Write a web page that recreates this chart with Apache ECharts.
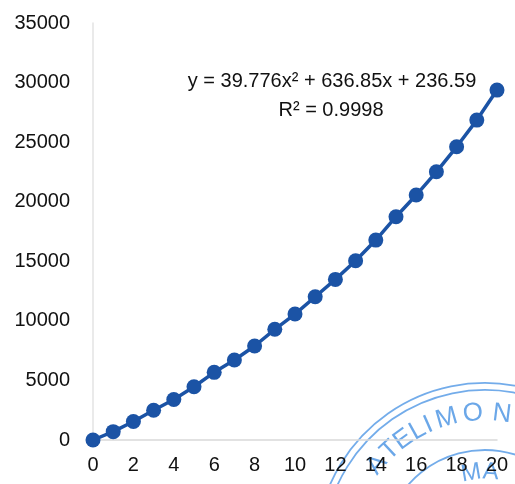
<!DOCTYPE html>
<html>
<head>
<meta charset="utf-8">
<script src="https://cdn.jsdelivr.net/npm/echarts@6/dist/echarts.min.js"></script>
<style>
  html, body { margin: 0; padding: 0; background: #ffffff; }
  #chart { width: 515px; height: 484px; }
</style>
</head>
<body>
<div id="chart"></div>
<script>
// Measured series: x from 0 to 20, y values
const xValues = [0, 1, 2, 3, 4, 5, 6, 7, 8, 9, 10, 11, 12, 13, 14, 15, 16, 17, 18, 19, 20];
const yValues = [0, 700, 1550, 2500, 3400, 4470, 5680, 6710, 7890, 9290, 10570,
                 12020, 13480, 15040, 16780, 18740, 20560, 22510, 24610, 26850, 29370];

// Trendline annotation
const equationText = 'y = 39.776x² + 636.85x + 236.59';
const r2Text = 'R² = 0.9998';

// Letters of the rubber stamp in the corner
const stampTopLetters = ['A', 'T', 'E', 'L', 'I', 'M', 'O', 'N'];
const stampTopAngles = [141, 133, 126, 119, 114, 106, 95, 83];
const stampInnerLetters = ['M', 'A'];
const stampInnerAngles = [100, 86];

const FONT = "'Liberation Sans', Arial, sans-serif";
const BLUE = '#1b53a5';
const STAMP = '#5b9de6';

const points = xValues.map((x, i) => [x, yValues[i]]);

// Stamp geometry
const stampCx = 485, stampCy = 552;
const stampEls = [];
[169, 162].forEach(r => {
  stampEls.push({
    type: 'arc',
    shape: { cx: stampCx, cy: stampCy, r: r, startAngle: -170 * Math.PI / 180, endAngle: -50 * Math.PI / 180, clockwise: true },
    style: { stroke: STAMP, lineWidth: 1.8, fill: null, opacity: 0.85 },
    silent: true
  });
});
stampEls.push({
  type: 'arc',
  shape: { cx: stampCx, cy: stampCy, r: 102, startAngle: -150 * Math.PI / 180, endAngle: -40 * Math.PI / 180, clockwise: true },
  style: { stroke: STAMP, lineWidth: 1.8, fill: null, opacity: 0.85 },
  silent: true
});
function stampLetter(ch, angleDeg, r, size) {
  const a = angleDeg * Math.PI / 180;
  return {
    type: 'text',
    x: stampCx + r * Math.cos(a),
    y: stampCy - r * Math.sin(a),
    rotation: (angleDeg - 90) * Math.PI / 180,
    style: {
      text: ch, fill: STAMP, opacity: 0.9,
      font: 'normal ' + size + 'px ' + FONT,
      align: 'center', verticalAlign: 'middle'
    },
    silent: true
  };
}
stampTopLetters.forEach((ch, i) => stampEls.push(stampLetter(ch, stampTopAngles[i], 139, 26)));
stampInnerLetters.forEach((ch, i) => stampEls.push(stampLetter(ch, stampInnerAngles[i], 80, 24)));

const chart = echarts.init(document.getElementById('chart'), null, { renderer: 'canvas' });

chart.setOption({
  animation: false,
  backgroundColor: '#ffffff',
  grid: { left: 93, right: 18, top: 23, bottom: 44, containLabel: false, outerBoundsMode: 'none' },
  xAxis: {
    type: 'value',
    min: 0, max: 20, interval: 2,
    axisLine: { show: true, lineStyle: { color: '#d9d9d9', width: 1.5 } },
    axisTick: { show: false },
    splitLine: { show: false },
    axisLabel: { color: '#111111', fontFamily: FONT, fontSize: 20, margin: 15, formatter: v => String(v) }
  },
  yAxis: {
    type: 'value',
    min: 0, max: 35000, interval: 5000,
    axisLine: { show: true, lineStyle: { color: '#e3e3e3', width: 1.5 } },
    axisTick: { show: false },
    splitLine: { show: false },
    axisLabel: { color: '#111111', fontFamily: FONT, fontSize: 20, margin: 23, formatter: v => String(v) }
  },
  series: [{
    type: 'line',
    data: points,
    clip: false,
    symbol: 'circle',
    symbolSize: 15,
    showAllSymbol: true,
    itemStyle: { color: BLUE },
    lineStyle: { color: BLUE, width: 3.5 },
    z: 3
  }],
  graphic: [
    {
      type: 'text',
      x: 332, y: 81,
      style: {
        text: equationText, fill: '#111111',
        font: 'normal 20px ' + FONT,
        align: 'center', verticalAlign: 'middle'
      },
      z: 10
    },
    {
      type: 'text',
      x: 331, y: 110,
      style: {
        text: r2Text, fill: '#111111',
        font: 'normal 20px ' + FONT,
        align: 'center', verticalAlign: 'middle'
      },
      z: 10
    },
    { type: 'group', children: stampEls, z: 20 }
  ]
});
</script>
</body>
</html>
